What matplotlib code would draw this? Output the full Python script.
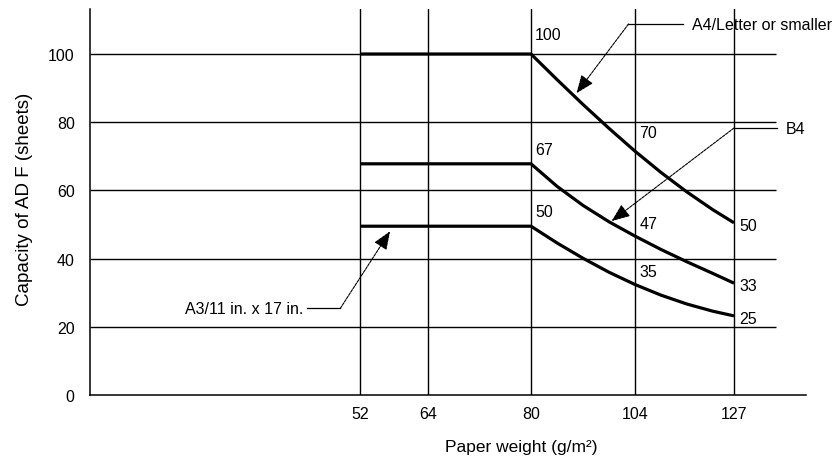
import numpy as np
import matplotlib
matplotlib.use("Agg")
import matplotlib.pyplot as plt

plt.rcParams['font.family'] = ['Liberation Sans', 'DejaVu Sans']

# paper weight ticks (g/m2) and capacity ticks (sheets)
x_ticks = [52, 64, 80, 104, 127]
y_ticks = [0, 20, 40, 60, 80, 100]

# capacity curves
a4_weight = [52, 80, 86, 92, 98, 104, 110, 116, 122, 127]
a4_sheets = [100, 100, 92.5, 85.2, 78.2, 71.5, 65.3, 59.6, 54.4, 50.5]

b4_weight = [52, 80, 86, 92, 98, 104, 110, 116, 122, 127]
b4_sheets = [67.8, 67.8, 61.2, 55.6, 50.8, 46.6, 42.7, 39.1, 35.7, 32.8]

a3_weight = [52, 80, 86, 92, 98, 104, 110, 116, 122, 127]
a3_sheets = [49.5, 49.5, 44.6, 40.1, 36.0, 32.4, 29.3, 26.7, 24.6, 23.2]

# value labels: (weight, label) per curve
a4_labels = [(80, '100'), (104, '70'), (127, '50')]
b4_labels = [(80, '67'), (104, '47'), (127, '33')]
a3_labels = [(80, '50'), (104, '35'), (127, '25')]

# the printed x axis is not linear: piecewise mapping of weight -> position
knot_w = [0, 52, 64, 80, 104, 127, 144]
knot_p = [90, 360, 428, 531, 635, 734, 806]


def fwd(w):
    return np.interp(w, knot_w, knot_p)


def inv(p):
    return np.interp(p, knot_p, knot_w)


fig = plt.figure(figsize=(8.37, 4.64), dpi=100)
ax = fig.add_axes([90 / 837, 1 - 396 / 464, 716 / 837, 386 / 464])
ax.set_xscale('function', functions=(fwd, inv))
ax.set_xlim(0, 144)
ax.set_ylim(0, 113.2)

for s in ['top', 'right']:
    ax.spines[s].set_visible(False)
for s in ['left', 'bottom']:
    ax.spines[s].set_linewidth(1.1)

# grid: full-height verticals, horizontals stop short of the axis end
for xt in x_ticks:
    ax.axvline(xt, color='black', lw=1.0, zorder=1)
ax.hlines(y_ticks[1:], 0, 137, color='black', lw=1.0, zorder=1)

ax.set_xticks(x_ticks)
ax.set_xticklabels([str(v) for v in x_ticks])
ax.set_yticks(y_ticks)
ax.set_yticklabels([str(v) for v in y_ticks])
ax.tick_params(length=0, labelsize=11.5)
ax.tick_params(axis='y', pad=11)
ax.tick_params(axis='x', pad=8)

for w, v in [(a4_weight, a4_sheets), (b4_weight, b4_sheets), (a3_weight, a3_sheets)]:
    ax.plot(w, v, color='black', lw=2.3, solid_capstyle='butt',
            solid_joinstyle='round', zorder=3)


def value_at(weights, sheets, w):
    return sheets[weights.index(w)]


# label offsets in points (layout only)
offsets = {80: (3, 5), 104: (3, 4), 127: (4, -2)}
for weights, sheets, labels, top_extra in [(a4_weight, a4_sheets, a4_labels, (4, 4)),
                                            (b4_weight, b4_sheets, b4_labels, (0, 0)),
                                            (a3_weight, a3_sheets, a3_labels, (0, 0))]:
    for w, txt in labels:
        dx, dy = offsets[w]
        if w != 127:
            dy += top_extra[0] if w == 80 else top_extra[1]
            va = 'bottom'
        else:
            va = 'center'
        ax.annotate(txt, (w, value_at(weights, sheets, w)), xytext=(dx, dy),
                    textcoords='offset points', ha='left', va=va, fontsize=11.5)

# leader lines with arrows
arrow_kw = dict(arrowstyle='-|>,head_length=0.8,head_width=0.32', color='black',
                lw=0.8, ls=(0, (2.5, 1)), shrinkA=0, shrinkB=0, mutation_scale=14)

# A4/Letter or smaller
ax.plot([102.5, 115.1], [108.8, 108.8], color='black', lw=0.9)
ax.annotate('', xy=(90.5, 88.5), xytext=(102.5, 108.8), arrowprops=arrow_kw)
ax.text(117.2, 108.8, 'A4/Letter or smaller', fontsize=11.5, ha='left', va='center')

# B4
ax.plot([127, 137.2], [78.3, 78.3], color='black', lw=0.9)
ax.annotate('', xy=(98.6, 51.0), xytext=(127, 78.3), arrowprops=arrow_kw)
ax.text(139.2, 78.3, 'B4', fontsize=11.5, ha='left', va='center')

# A3/11 in. x 17 in.
ax.plot([41.7, 48.2], [25.4, 25.4], color='black', lw=0.9)
ax.annotate('', xy=(57.3, 48.0), xytext=(48.2, 25.4), arrowprops=arrow_kw)
ax.text(41.0, 25.4, 'A3/11 in. x 17 in.', fontsize=11.5, ha='right', va='center')

ax.set_xlabel('Paper weight (g/m²)', fontsize=12.5)
ax.xaxis.set_label_coords(0.603, -0.114)
ax.set_ylabel('Capacity of AD F (sheets)', fontsize=13.5, va='center')
ax.yaxis.set_label_coords(-0.0908, 0.51)

fig.savefig('out.png', dpi=100)
